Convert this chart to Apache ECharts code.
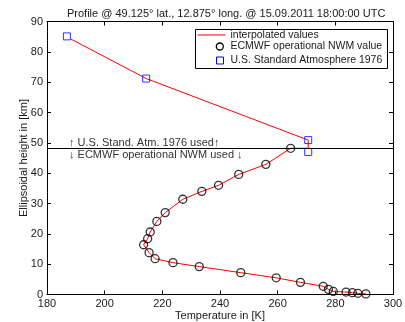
<!DOCTYPE html>
<html>
<head>
<meta charset="utf-8">
<title>Temperature profile</title>
<script src="https://cdn.jsdelivr.net/npm/echarts@6/dist/echarts.min.js"></script>
<style>
  html, body { margin: 0; padding: 0; background: #fff; }
  #chart { width: 405px; height: 322px; }
</style>
</head>
<body>
<div id="chart"></div>
<script>
// ECMWF operational NWM profile (temperature in K, ellipsoidal height in km)
var ecmwfTemp   = [264.5, 255.9, 246.5, 239.5, 233.7, 227.1, 221.0, 218.1, 215.8, 214.9, 213.5, 215.4, 217.5,
                   223.7, 232.8, 247.2, 259.5, 267.9, 275.8, 277.6, 279.3, 283.7, 285.9, 287.8, 290.6];
var ecmwfHeight = [48.2, 42.9, 39.6, 36.0, 34.0, 31.4, 27.0, 24.1, 20.6, 18.4, 16.4, 13.8, 11.8,
                   10.5, 9.2, 7.2, 5.5, 4.0, 2.7, 1.7, 1.0, 0.8, 0.6, 0.4, 0.2];

// U.S. Standard Atmosphere 1976 layer points
var stdTemp   = [186.9, 214.4, 270.6, 270.6];
var stdHeight = [85.1, 71.2, 50.9, 47.0];

// Upper part of the interpolated profile (above the ECMWF model top)
var upperTemp   = [188.3, 214.4, 270.6, 270.6];
var upperHeight = [84.2, 71.2, 50.9, 48.2];

// Height where the profile switches from the NWM to the standard atmosphere
var boundaryHeight = 48.2;

// Axis ranges and ticks
var tempTicks   = [180, 200, 220, 240, 260, 280, 300];
var heightTicks = [0, 10, 20, 30, 40, 50, 60, 70, 80, 90];

var titleText = 'Profile @ 49.125\u00b0 lat., 12.875\u00b0 long. @ 15.09.2011 18:00:00 UTC';
var legendNames = ['interpolated values', 'ECMWF operational NWM value', 'U.S. Standard Atmosphere 1976'];

function zip(xs, ys) {
  return xs.map(function (x, i) { return [x, ys[i]]; });
}

var interpData = zip(upperTemp, upperHeight).concat(zip(ecmwfTemp, ecmwfHeight));

var FONT = '"Liberation Sans", Arial, Helvetica, sans-serif';
var TXT = '#1a1a1a';

var frameAxis = {
  axisLine: { show: true, onZero: false, lineStyle: { color: '#000', width: 1 } },
  axisTick: { show: true, inside: true, length: 4, lineStyle: { color: '#000', width: 1 } },
  splitLine: { show: false },
  nameMoveOverlap: false
};

function xAxisDef(pos, labels) {
  return Object.assign({
    type: 'value', position: pos,
    min: tempTicks[0], max: tempTicks[tempTicks.length - 1],
    interval: tempTicks[1] - tempTicks[0],
    axisLabel: { show: labels, margin: 4, color: TXT, fontSize: 11, fontFamily: FONT },
    name: labels ? 'Temperature in [K]' : '',
    nameLocation: 'middle', nameGap: 15.5,
    nameTextStyle: { color: TXT, fontSize: 11, fontFamily: FONT }
  }, frameAxis);
}

function yAxisDef(pos, labels) {
  return Object.assign({
    type: 'value', position: pos,
    min: heightTicks[0], max: heightTicks[heightTicks.length - 1],
    interval: heightTicks[1] - heightTicks[0],
    axisLabel: { show: labels, margin: 4, color: TXT, fontSize: 11, fontFamily: FONT },
    name: labels ? 'Ellipsoidal height in [km]' : '',
    nameLocation: 'middle', nameGap: 18,
    nameTextStyle: { color: TXT, fontSize: 11, fontFamily: FONT }
  }, frameAxis);
}

var chart = echarts.init(document.getElementById('chart'), null, { renderer: 'canvas' });

chart.setOption({
  backgroundColor: '#fff',
  animation: false,
  textStyle: { fontFamily: FONT },
  title: {
    text: titleText, left: 62, top: 3,
    textStyle: { color: TXT, fontSize: 11, fontWeight: 'normal', fontFamily: FONT }
  },
  grid: { left: 47, right: 12, top: 21.5, bottom: 27.5, containLabel: false, outerBoundsMode: 'none' },
  xAxis: [xAxisDef('bottom', true), xAxisDef('top', false)],
  yAxis: [yAxisDef('left', true), yAxisDef('right', false)],
  series: [
    {
      name: legendNames[0], type: 'line', data: interpData,
      symbol: 'none', lineStyle: { color: '#ff0000', width: 1 },
      z: 2,
      markLine: {
        silent: true, symbol: 'none', label: { show: false },
        lineStyle: { color: '#000', width: 1, type: 'solid' },
        data: [{ yAxis: boundaryHeight }]
      }
    },
    {
      name: legendNames[1], type: 'scatter', data: zip(ecmwfTemp, ecmwfHeight),
      symbol: 'circle', symbolSize: 8,
      itemStyle: { color: 'rgba(0,0,0,0)', borderColor: '#000', borderWidth: 1.3 },
      z: 3
    },
    {
      name: legendNames[2], type: 'scatter', data: zip(stdTemp, stdHeight),
      symbol: 'rect', symbolSize: 7,
      itemStyle: { color: 'rgba(0,0,0,0)', borderColor: '#0000ff', borderWidth: 1 },
      z: 4
    }
  ],
  graphic: [
    // legend box
    {
      type: 'group', left: 195, top: 29,
      children: [
        { type: 'rect', shape: { x: 0, y: 0, width: 192, height: 39 },
          style: { fill: '#fff', stroke: '#000', lineWidth: 1 } },
        { type: 'line', shape: { x1: 2, y1: 5.5, x2: 30, y2: 5.5 },
          style: { stroke: '#ff0000', lineWidth: 1 } },
        { type: 'circle', shape: { cx: 24.3, cy: 17, r: 3.5 },
          style: { fill: 'none', stroke: '#000', lineWidth: 1.3 } },
        { type: 'rect', shape: { x: 21, y: 27.5, width: 7, height: 7 },
          style: { fill: 'none', stroke: '#0000ff', lineWidth: 1 } },
        { type: 'text', x: 35, y: 5.5, style: { text: legendNames[0], fill: TXT, font: '10.5px ' + FONT, verticalAlign: 'middle' } },
        { type: 'text', x: 35, y: 17, style: { text: legendNames[1], fill: TXT, font: '10.5px ' + FONT, verticalAlign: 'middle' } },
        { type: 'text', x: 35, y: 31, style: { text: legendNames[2], fill: TXT, font: '10.5px ' + FONT, verticalAlign: 'middle' } }
      ]
    },
    // annotation either side of the switch height
    { type: 'text', left: 69, top: 137,
      style: { text: '\u2191 U.S. Stand. Atm. 1976 used\u2191', fill: '#333', font: '11px ' + FONT } },
    { type: 'text', left: 69, top: 149,
      style: { text: '\u2193 ECMWF operational NWM used \u2193', fill: '#333', font: '11px ' + FONT } }
  ]
});
</script>
</body>
</html>
